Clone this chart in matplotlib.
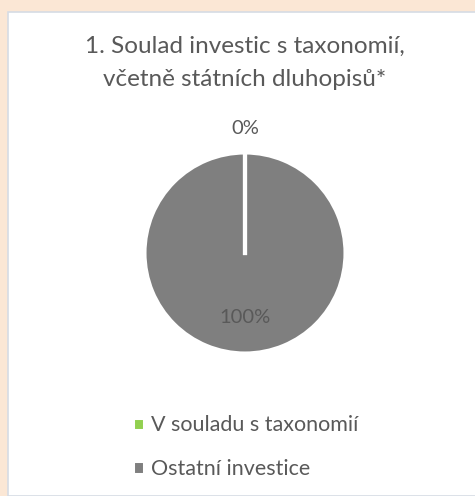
import numpy as np
import matplotlib.pyplot as plt
from matplotlib.patches import Rectangle

plt.rcParams['font.family'] = ['Lato', 'DejaVu Sans']

labels = ["V souladu s taxonomií", "Ostatní investice"]
values = [0, 100]
colors = ["#92D050", "#7F7F7F"]
title = "1. Soulad investic s taxonomií,\nvčetně státních dluhopisů*"

text_color = "#595959"
W, H = 475, 496

fig = plt.figure(figsize=(W / 100, H / 100), dpi=100, facecolor="#FBE7D5")

# white panel with thin border, kept behind the chart
fig.patches.append(Rectangle((8 / W, 0), 1, 1 - 12 / H, transform=fig.transFigure,
                             facecolor="white", edgecolor="#D6DCE4", linewidth=1.2,
                             zorder=-1))

fig.text(245 / W, 1 - 63 / H, title, ha="center", va="center", fontsize=17.5,
         color=text_color, linespacing=1.75)

cx, cy, r = 245, 253, 100
ax = fig.add_axes([(cx - r) / W, 1 - (cy + r) / H, 2 * r / W, 2 * r / H])
ax.set_zorder(2)
wedges, texts, autotexts = ax.pie(
    values, colors=colors, startangle=90, counterclock=False,
    autopct="%1.0f%%", pctdistance=0.65,
    wedgeprops=dict(edgecolor="white", linewidth=2.2),
    textprops=dict(color=text_color, fontsize=14.5),
)
# slice borders (a zero-size slice still shows as a white spoke)
for w in wedges:
    a = np.deg2rad(w.theta1)
    ax.plot([0, np.cos(a)], [0, np.sin(a)], color="white", lw=3, zorder=3)
for val, t in zip(values, autotexts):
    if val == 0:
        x, y = t.get_position()
        t.set_position((x / 0.65 * 1.25, y / 0.65 * 1.25))
ax.set_xlim(-1, 1)
ax.set_ylim(-1, 1)

fig.legend(wedges, labels, loc="upper left", bbox_to_anchor=(114 / W, 1 - 396 / H),
           frameon=False, fontsize=15.5, labelcolor=text_color,
           handlelength=0.5, handleheight=0.5, handletextpad=0.3,
           labelspacing=1.1)

fig.savefig("out.png", dpi=100, facecolor=fig.get_facecolor())
